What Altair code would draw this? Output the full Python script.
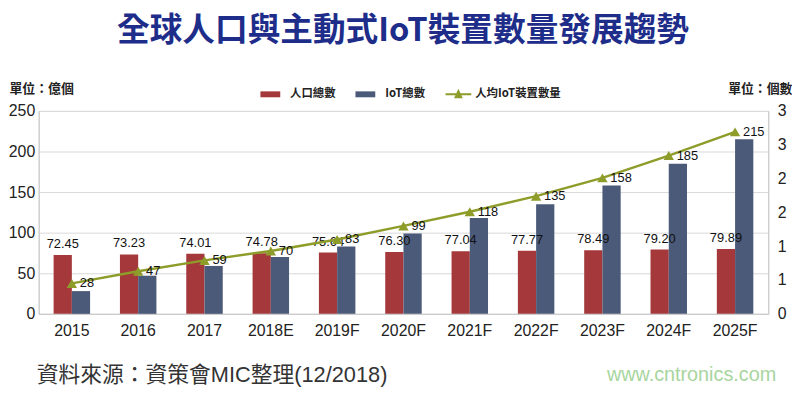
import json
import altair as alt
import pandas as pd

# ---------------- data ----------------
title_text = "全球人口與主動式IoT裝置數量發展趨勢"
years = ["2015", "2016", "2017", "2018E", "2019F", "2020F", "2021F", "2022F", "2023F", "2024F", "2025F"]
population = [72.45, 73.23, 74.01, 74.78, 75.64, 76.30, 77.04, 77.77, 78.49, 79.20, 79.89]
iot_total = [28, 47, 59, 70, 83, 99, 118, 135, 158, 185, 215]
iot_per_capita = [0.45, 0.63, 0.79, 0.93, 1.10, 1.30, 1.51, 1.74, 2.01, 2.34, 2.69]
series_names = ["人口總數", "IoT總數", "人均IoT裝置數量"]
series_colors = ["#a5383b", "#4b5a78", "#8e9c2a"]
left_ticks = [0, 50, 100, 150, 200, 250]
right_ticks = [0, 0.5, 1, 1.5, 2, 2.5, 3]
right_tick_labels = ["0", "1", "1", "2", "2", "3", "3"]
left_unit = "單位：億個"
right_unit = "單位：個數"
source_text = "資料來源：資策會MIC整理(12/2018)"
watermark_text = "www.cntronics.com"

# ---------------- tables ----------------
bars_df = pd.DataFrame(
    {
        "year": years * 2,
        "series": [series_names[0]] * len(years) + [series_names[1]] * len(years),
        "value": population + iot_total,
    }
)
pop_df = pd.DataFrame({"year": years, "series": series_names[0], "value": population})
line_df = pd.DataFrame({"year": years, "per_capita": iot_per_capita, "iot": iot_total})
title_df = pd.DataFrame({"label": [title_text]})
source_df = pd.DataFrame({"label": [source_text]})
mark_df = pd.DataFrame({"label": [watermark_text]})

FONT_NUM = "Liberation Sans, Arial, sans-serif"
FONT_CJK = "Liberation Sans, 'Noto Sans CJK TC', sans-serif"
GRID = "#d9d9d9"
FRAME = "#c6c6c6"

rect_path = "M-1,-0.23H0.54V0.23H-1Z"
line_tri_path = "M-1,-0.08H1V0.08H-1Z M0,-0.44L0.34,0.3H-0.34Z"

legend_spec = alt.Legend(
    orient="none",
    legendX=224,
    legendY=-30,
    direction="horizontal",
    title=None,
    labelFont="'Noto Sans CJK TC', sans-serif",
    labelFontSize=11.5,
    labelFontWeight="bold",
    labelColor="#222222",
    symbolSize=676,
    symbolStrokeWidth=0,
    labelOffset=4,
    columnPadding=20,
)
color_scale = alt.Scale(domain=series_names, range=series_colors)
shape_scale = alt.Scale(domain=series_names, range=[rect_path, rect_path, line_tri_path])

x_enc = alt.X(
    "year:N",
    sort=years,
    title=None,
    scale=alt.Scale(paddingInner=0.45, paddingOuter=0.225),
    axis=alt.Axis(
        labelAngle=0,
        ticks=False,
        domainColor=FRAME,
        labelFont=FONT_NUM,
        labelFontSize=16,
        labelColor="#222222",
        labelPadding=9,
    ),
)
xoff_enc = alt.XOffset("series:N", scale=alt.Scale(domain=series_names[:2]), sort=series_names[:2])

left_axis = alt.Axis(
    values=left_ticks,
    title=left_unit,
    titleAngle=0,
    titleX=-30,
    titleY=-23,
    titleAlign="left",
    titleBaseline="middle",
    titleFont="'Noto Sans CJK TC', sans-serif",
    titleFontSize=13,
    titleFontWeight="bold",
    titleColor="#222222",
    labelFont=FONT_NUM,
    labelFontSize=16,
    labelColor="#222222",
    labelPadding=4,
    ticks=False,
    domainColor=FRAME,
    gridColor=GRID,
)
right_axis = alt.Axis(
    orient="right",
    values=right_ticks,
    labelExpr=json.dumps(right_tick_labels) + "[round(datum.value*2)]",
    title=right_unit,
    titleAngle=0,
    titleX=-41,
    titleY=-23,
    titleAlign="left",
    titleBaseline="middle",
    titleFont="'Noto Sans CJK TC', sans-serif",
    titleFontSize=13,
    titleFontWeight="bold",
    titleColor="#222222",
    labelFont=FONT_NUM,
    labelFontSize=16,
    labelColor="#222222",
    labelPadding=9,
    ticks=False,
    grid=False,
    domainColor=FRAME,
)
y_left = alt.Y("value:Q", scale=alt.Scale(domain=[0, 250]), axis=left_axis)
y_right = alt.Y("per_capita:Q", scale=alt.Scale(domain=[0, 3]), axis=right_axis)

bars = alt.Chart(bars_df).mark_bar().encode(
    x=x_enc,
    xOffset=xoff_enc,
    y=y_left,
    color=alt.Color("series:N", scale=color_scale, legend=legend_spec),
)
pop_labels = alt.Chart(pop_df).mark_text(
    baseline="bottom", dy=-4, font=FONT_NUM, fontSize=13, color="#111111"
).encode(
    x=x_enc,
    xOffset=xoff_enc,
    y=y_left,
    text=alt.Text("value:Q", format=".2f"),
)

line = alt.Chart(line_df).mark_line(color=series_colors[2], strokeWidth=2.5).encode(x=x_enc, y=y_right)
points = alt.Chart(line_df).mark_point(
    shape="triangle-up", filled=True, size=110, opacity=1, color=series_colors[2]
).encode(x=x_enc, y=y_right)
iot_labels = alt.Chart(line_df).mark_text(
    align="left", baseline="middle", dx=8, font=FONT_NUM, fontSize=13, color="#111111"
).encode(x=x_enc, y=y_right, text=alt.Text("iot:Q"))

legend_layer = alt.Chart(bars_df).transform_filter("false").mark_point(filled=True, opacity=1).encode(
    color=alt.Color("series:N", scale=color_scale, legend=legend_spec),
    shape=alt.Shape("series:N", scale=shape_scale, legend=legend_spec),
)

title = alt.Chart(title_df).mark_text(
    align="center", baseline="alphabetic", font="'Noto Sans CJK TC', sans-serif",
    fontSize=33, fontWeight="bold", color="#1e2d8a"
).encode(x=alt.value(368), y=alt.value(-71), text="label:N")
source = alt.Chart(source_df).mark_text(
    align="left", baseline="middle", font=FONT_CJK, fontSize=22, color="#333333"
).encode(x=alt.value(-2), y=alt.value(267), text="label:N")
watermark = alt.Chart(mark_df).mark_text(
    align="right", baseline="middle", font=FONT_NUM, fontSize=20, color="#a8d5a0"
).encode(x=alt.value(745), y=alt.value(267), text="label:N")

left_layer = alt.layer(bars, pop_labels)
right_layer = alt.layer(line, points, iot_labels)

chart = (
    alt.layer(left_layer, right_layer, legend_layer, title, source, watermark)
    .resolve_scale(y="independent")
    .properties(
        width=737,
        height=205,
        padding={"left": 31, "top": 102, "right": 24, "bottom": 77},
        autosize=alt.AutoSizeParams(type="none"),
    )
    .configure_view(stroke=None)
    .configure(background="white")
)

chart.save("out.html", embed_options={"renderer": "svg", "actions": False})
